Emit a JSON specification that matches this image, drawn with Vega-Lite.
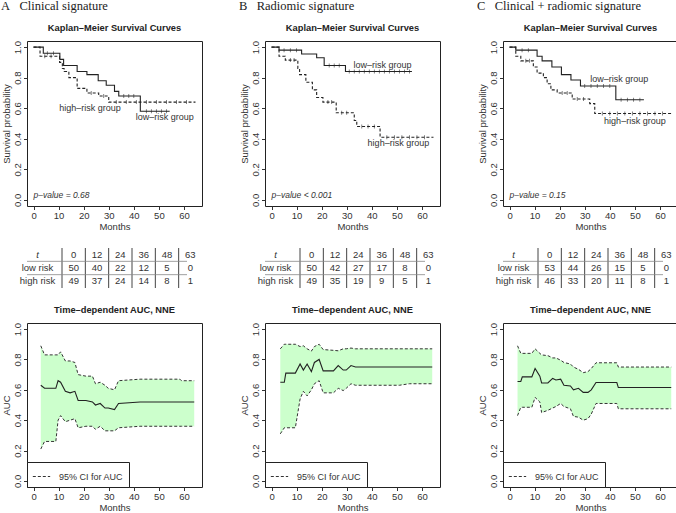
{
"$schema": "https://vega.github.io/schema/vega-lite/v6.json",
"padding": {"left": 0, "top": 0, "right": 0, "bottom": 0},
"datasets": {
"km": [
{"panel":"A","group":"low","t":0,"s":1},{"panel":"A","group":"low","t":3.9,"s":0.96},{"panel":"A","group":"low","t":10.5,"s":0.92},{"panel":"A","group":"low","t":12,"s":0.88},{"panel":"A","group":"low","t":17.4,"s":0.84},{"panel":"A","group":"low","t":21.3,"s":0.82},{"panel":"A","group":"low","t":25.8,"s":0.78},{"panel":"A","group":"low","t":29,"s":0.75},{"panel":"A","group":"low","t":32.3,"s":0.71},{"panel":"A","group":"low","t":34,"s":0.68},{"panel":"A","group":"low","t":42.6,"s":0.58},{"panel":"A","group":"low","t":54.3,"s":0.58},
{"panel":"A","group":"high","t":0,"s":1},{"panel":"A","group":"high","t":2.6,"s":0.94},{"panel":"A","group":"high","t":10.4,"s":0.9},{"panel":"A","group":"high","t":11.5,"s":0.86},{"panel":"A","group":"high","t":12.2,"s":0.84},{"panel":"A","group":"high","t":14.1,"s":0.8},{"panel":"A","group":"high","t":17.4,"s":0.73},{"panel":"A","group":"high","t":21.3,"s":0.7},{"panel":"A","group":"high","t":26,"s":0.68},{"panel":"A","group":"high","t":30,"s":0.64},{"panel":"A","group":"high","t":64.6,"s":0.64},
{"panel":"B","group":"low","t":0,"s":1},{"panel":"B","group":"low","t":3,"s":0.98},{"panel":"B","group":"low","t":12,"s":0.955},{"panel":"B","group":"low","t":18,"s":0.93},{"panel":"B","group":"low","t":21,"s":0.88},{"panel":"B","group":"low","t":29.5,"s":0.84},{"panel":"B","group":"low","t":56,"s":0.84},
{"panel":"B","group":"high","t":0,"s":1},{"panel":"B","group":"high","t":3,"s":0.94},{"panel":"B","group":"high","t":5.5,"s":0.915},{"panel":"B","group":"high","t":10.5,"s":0.86},{"panel":"B","group":"high","t":11.2,"s":0.82},{"panel":"B","group":"high","t":13.7,"s":0.77},{"panel":"B","group":"high","t":16.3,"s":0.72},{"panel":"B","group":"high","t":18,"s":0.67},{"panel":"B","group":"high","t":20.5,"s":0.64},{"panel":"B","group":"high","t":25.8,"s":0.57},{"panel":"B","group":"high","t":33,"s":0.52},{"panel":"B","group":"high","t":34,"s":0.48},{"panel":"B","group":"high","t":43.3,"s":0.41},{"panel":"B","group":"high","t":64.6,"s":0.41},
{"panel":"C","group":"low","t":0,"s":1},{"panel":"C","group":"low","t":2.5,"s":0.98},{"panel":"C","group":"low","t":11,"s":0.94},{"panel":"C","group":"low","t":13,"s":0.91},{"panel":"C","group":"low","t":16.9,"s":0.87},{"panel":"C","group":"low","t":20.7,"s":0.82},{"panel":"C","group":"low","t":24.5,"s":0.785},{"panel":"C","group":"low","t":28.3,"s":0.745},{"panel":"C","group":"low","t":42.4,"s":0.655},{"panel":"C","group":"low","t":53.6,"s":0.655},
{"panel":"C","group":"high","t":0,"s":1},{"panel":"C","group":"high","t":2.5,"s":0.94},{"panel":"C","group":"high","t":4.5,"s":0.91},{"panel":"C","group":"high","t":9.5,"s":0.87},{"panel":"C","group":"high","t":11,"s":0.83},{"panel":"C","group":"high","t":13.5,"s":0.8},{"panel":"C","group":"high","t":15,"s":0.76},{"panel":"C","group":"high","t":16.5,"s":0.72},{"panel":"C","group":"high","t":19,"s":0.7},{"panel":"C","group":"high","t":25,"s":0.66},{"panel":"C","group":"high","t":32,"s":0.63},{"panel":"C","group":"high","t":34,"s":0.565},{"panel":"C","group":"high","t":64.6,"s":0.565}
],
"cens": [
{"panel":"A","t":5.5,"s":0.96},{"panel":"A","t":8,"s":0.96},{"panel":"A","t":36,"s":0.68},{"panel":"A","t":38,"s":0.68},{"panel":"A","t":40,"s":0.68},{"panel":"A","t":45,"s":0.58},{"panel":"A","t":47,"s":0.58},{"panel":"A","t":49,"s":0.58},{"panel":"A","t":51,"s":0.58},{"panel":"A","t":53,"s":0.58},
{"panel":"A","t":4.5,"s":0.94},{"panel":"A","t":7,"s":0.94},{"panel":"A","t":23,"s":0.7},{"panel":"A","t":28,"s":0.68},{"panel":"A","t":33,"s":0.64},{"panel":"A","t":37,"s":0.64},{"panel":"A","t":41,"s":0.64},{"panel":"A","t":45,"s":0.64},{"panel":"A","t":49,"s":0.64},{"panel":"A","t":53,"s":0.64},{"panel":"A","t":57,"s":0.64},{"panel":"A","t":61,"s":0.64},
{"panel":"B","t":5,"s":0.98},{"panel":"B","t":7.5,"s":0.98},{"panel":"B","t":10,"s":0.98},{"panel":"B","t":23,"s":0.88},{"panel":"B","t":25,"s":0.88},{"panel":"B","t":27,"s":0.88},{"panel":"B","t":31,"s":0.84},{"panel":"B","t":33,"s":0.84},{"panel":"B","t":35,"s":0.84},{"panel":"B","t":37,"s":0.84},{"panel":"B","t":39,"s":0.84},{"panel":"B","t":41,"s":0.84},{"panel":"B","t":43,"s":0.84},{"panel":"B","t":45,"s":0.84},{"panel":"B","t":47,"s":0.84},{"panel":"B","t":49,"s":0.84},{"panel":"B","t":51,"s":0.84},{"panel":"B","t":53,"s":0.84},{"panel":"B","t":55,"s":0.84},
{"panel":"B","t":7.5,"s":0.915},{"panel":"B","t":9,"s":0.915},{"panel":"B","t":22.5,"s":0.64},{"panel":"B","t":24,"s":0.64},{"panel":"B","t":28,"s":0.57},{"panel":"B","t":30,"s":0.57},{"panel":"B","t":36,"s":0.48},{"panel":"B","t":38.5,"s":0.48},{"panel":"B","t":41,"s":0.48},{"panel":"B","t":46,"s":0.41},{"panel":"B","t":49,"s":0.41},{"panel":"B","t":52,"s":0.41},{"panel":"B","t":55,"s":0.41},{"panel":"B","t":58,"s":0.41},{"panel":"B","t":61,"s":0.41},
{"panel":"C","t":5,"s":0.98},{"panel":"C","t":7.5,"s":0.98},{"panel":"C","t":30,"s":0.745},{"panel":"C","t":32.5,"s":0.745},{"panel":"C","t":35,"s":0.745},{"panel":"C","t":37.5,"s":0.745},{"panel":"C","t":40,"s":0.745},{"panel":"C","t":44.5,"s":0.655},{"panel":"C","t":47,"s":0.655},{"panel":"C","t":49.5,"s":0.655},{"panel":"C","t":52,"s":0.655},
{"panel":"C","t":6.5,"s":0.91},{"panel":"C","t":8,"s":0.91},{"panel":"C","t":21,"s":0.7},{"panel":"C","t":23,"s":0.7},{"panel":"C","t":27,"s":0.66},{"panel":"C","t":29.5,"s":0.66},{"panel":"C","t":37,"s":0.565},{"panel":"C","t":40,"s":0.565},{"panel":"C","t":43,"s":0.565},{"panel":"C","t":46,"s":0.565},{"panel":"C","t":49,"s":0.565},{"panel":"C","t":52,"s":0.565},{"panel":"C","t":55,"s":0.565},{"panel":"C","t":58,"s":0.565},{"panel":"C","t":61,"s":0.565}
],
"auc": [
{"panel":"A","t":2.9,"lo":0.21,"auc":0.63,"hi":0.89},{"panel":"A","t":4.4,"lo":0.26,"auc":0.61,"hi":0.83},{"panel":"A","t":8.9,"lo":0.26,"auc":0.61,"hi":0.83},{"panel":"A","t":9.8,"lo":0.4,"auc":0.66,"hi":0.83},{"panel":"A","t":10.8,"lo":0.43,"auc":0.65,"hi":0.85},{"panel":"A","t":12.7,"lo":0.39,"auc":0.59,"hi":0.79},{"panel":"A","t":14.6,"lo":0.4,"auc":0.58,"hi":0.79},{"panel":"A","t":16.5,"lo":0.41,"auc":0.59,"hi":0.78},{"panel":"A","t":17.8,"lo":0.35,"auc":0.53,"hi":0.7},{"panel":"A","t":20.9,"lo":0.36,"auc":0.53,"hi":0.69},{"panel":"A","t":23.5,"lo":0.36,"auc":0.52,"hi":0.69},{"panel":"A","t":24.7,"lo":0.34,"auc":0.5,"hi":0.64},{"panel":"A","t":26.6,"lo":0.36,"auc":0.51,"hi":0.65},{"panel":"A","t":28.5,"lo":0.33,"auc":0.48,"hi":0.63},{"panel":"A","t":29.8,"lo":0.33,"auc":0.48,"hi":0.61},{"panel":"A","t":32.3,"lo":0.33,"auc":0.47,"hi":0.6},{"panel":"A","t":33.9,"lo":0.35,"auc":0.51,"hi":0.66},{"panel":"A","t":42.5,"lo":0.36,"auc":0.52,"hi":0.67},{"panel":"A","t":58.4,"lo":0.36,"auc":0.52,"hi":0.67},{"panel":"A","t":59,"lo":0.36,"auc":0.52,"hi":0.66},{"panel":"A","t":64.1,"lo":0.36,"auc":0.52,"hi":0.66},
{"panel":"B","t":3.5,"lo":0.31,"auc":0.65,"hi":0.87},{"panel":"B","t":5.1,"lo":0.35,"auc":0.65,"hi":0.9},{"panel":"B","t":5.7,"lo":0.35,"auc":0.71,"hi":0.9},{"panel":"B","t":9.5,"lo":0.35,"auc":0.71,"hi":0.9},{"panel":"B","t":11.4,"lo":0.54,"auc":0.77,"hi":0.885},{"panel":"B","t":12.7,"lo":0.59,"auc":0.73,"hi":0.89},{"panel":"B","t":14.2,"lo":0.56,"auc":0.77,"hi":0.87},{"panel":"B","t":15.9,"lo":0.6,"auc":0.72,"hi":0.855},{"panel":"B","t":17.1,"lo":0.64,"auc":0.78,"hi":0.885},{"panel":"B","t":19,"lo":0.66,"auc":0.8,"hi":0.9},{"panel":"B","t":20.6,"lo":0.58,"auc":0.725,"hi":0.865},{"panel":"B","t":24.7,"lo":0.58,"auc":0.725,"hi":0.86},{"panel":"B","t":26.6,"lo":0.61,"auc":0.76,"hi":0.857},{"panel":"B","t":28.6,"lo":0.595,"auc":0.73,"hi":0.87},{"panel":"B","t":29.8,"lo":0.61,"auc":0.73,"hi":0.87},{"panel":"B","t":31.7,"lo":0.64,"auc":0.76,"hi":0.875},{"panel":"B","t":33.5,"lo":0.63,"auc":0.75,"hi":0.87},{"panel":"B","t":51,"lo":0.63,"auc":0.75,"hi":0.87},{"panel":"B","t":55,"lo":0.64,"auc":0.75,"hi":0.87},{"panel":"B","t":64.1,"lo":0.64,"auc":0.75,"hi":0.87},
{"panel":"C","t":3.2,"lo":0.43,"auc":0.655,"hi":0.89},{"panel":"C","t":4.5,"lo":0.485,"auc":0.655,"hi":0.84},{"panel":"C","t":5.1,"lo":0.485,"auc":0.685,"hi":0.84},{"panel":"C","t":8.9,"lo":0.485,"auc":0.685,"hi":0.84},{"panel":"C","t":10.2,"lo":0.55,"auc":0.74,"hi":0.87},{"panel":"C","t":12.1,"lo":0.52,"auc":0.69,"hi":0.84},{"panel":"C","t":12.8,"lo":0.45,"auc":0.645,"hi":0.83},{"panel":"C","t":15.3,"lo":0.465,"auc":0.645,"hi":0.825},{"panel":"C","t":17.2,"lo":0.48,"auc":0.675,"hi":0.81},{"panel":"C","t":18.5,"lo":0.49,"auc":0.665,"hi":0.81},{"panel":"C","t":20.4,"lo":0.51,"auc":0.67,"hi":0.795},{"panel":"C","t":21.7,"lo":0.49,"auc":0.63,"hi":0.78},{"panel":"C","t":24.3,"lo":0.475,"auc":0.625,"hi":0.77},{"panel":"C","t":25.5,"lo":0.425,"auc":0.6,"hi":0.75},{"panel":"C","t":27.5,"lo":0.42,"auc":0.61,"hi":0.735},{"panel":"C","t":29.4,"lo":0.4,"auc":0.583,"hi":0.713},{"panel":"C","t":31.3,"lo":0.41,"auc":0.583,"hi":0.72},{"panel":"C","t":32.6,"lo":0.44,"auc":0.6,"hi":0.74},{"panel":"C","t":34.5,"lo":0.51,"auc":0.648,"hi":0.778},{"panel":"C","t":42.8,"lo":0.51,"auc":0.648,"hi":0.778},{"panel":"C","t":43.4,"lo":0.475,"auc":0.615,"hi":0.75},{"panel":"C","t":64.5,"lo":0.475,"auc":0.615,"hi":0.75}
],
"risk": [
{"panel":"A","row":"t","col":"0","n":"0"},{"panel":"A","row":"t","col":"12","n":"12"},{"panel":"A","row":"t","col":"24","n":"24"},{"panel":"A","row":"t","col":"36","n":"36"},{"panel":"A","row":"t","col":"48","n":"48"},{"panel":"A","row":"t","col":"63","n":"63"},
{"panel":"A","row":"low risk","col":"0","n":"50"},{"panel":"A","row":"low risk","col":"12","n":"40"},{"panel":"A","row":"low risk","col":"24","n":"22"},{"panel":"A","row":"low risk","col":"36","n":"12"},{"panel":"A","row":"low risk","col":"48","n":"5"},{"panel":"A","row":"low risk","col":"63","n":"0"},
{"panel":"A","row":"high risk","col":"0","n":"49"},{"panel":"A","row":"high risk","col":"12","n":"37"},{"panel":"A","row":"high risk","col":"24","n":"24"},{"panel":"A","row":"high risk","col":"36","n":"14"},{"panel":"A","row":"high risk","col":"48","n":"8"},{"panel":"A","row":"high risk","col":"63","n":"1"},
{"panel":"B","row":"t","col":"0","n":"0"},{"panel":"B","row":"t","col":"12","n":"12"},{"panel":"B","row":"t","col":"24","n":"24"},{"panel":"B","row":"t","col":"36","n":"36"},{"panel":"B","row":"t","col":"48","n":"48"},{"panel":"B","row":"t","col":"63","n":"63"},
{"panel":"B","row":"low risk","col":"0","n":"50"},{"panel":"B","row":"low risk","col":"12","n":"42"},{"panel":"B","row":"low risk","col":"24","n":"27"},{"panel":"B","row":"low risk","col":"36","n":"17"},{"panel":"B","row":"low risk","col":"48","n":"8"},{"panel":"B","row":"low risk","col":"63","n":"0"},
{"panel":"B","row":"high risk","col":"0","n":"49"},{"panel":"B","row":"high risk","col":"12","n":"35"},{"panel":"B","row":"high risk","col":"24","n":"19"},{"panel":"B","row":"high risk","col":"36","n":"9"},{"panel":"B","row":"high risk","col":"48","n":"5"},{"panel":"B","row":"high risk","col":"63","n":"1"},
{"panel":"C","row":"t","col":"0","n":"0"},{"panel":"C","row":"t","col":"12","n":"12"},{"panel":"C","row":"t","col":"24","n":"24"},{"panel":"C","row":"t","col":"36","n":"36"},{"panel":"C","row":"t","col":"48","n":"48"},{"panel":"C","row":"t","col":"63","n":"63"},
{"panel":"C","row":"low risk","col":"0","n":"53"},{"panel":"C","row":"low risk","col":"12","n":"44"},{"panel":"C","row":"low risk","col":"24","n":"26"},{"panel":"C","row":"low risk","col":"36","n":"15"},{"panel":"C","row":"low risk","col":"48","n":"5"},{"panel":"C","row":"low risk","col":"63","n":"0"},
{"panel":"C","row":"high risk","col":"0","n":"46"},{"panel":"C","row":"high risk","col":"12","n":"33"},{"panel":"C","row":"high risk","col":"24","n":"20"},{"panel":"C","row":"high risk","col":"36","n":"11"},{"panel":"C","row":"high risk","col":"48","n":"8"},{"panel":"C","row":"high risk","col":"63","n":"1"}
]
},
"hconcat": [
{
"title": {"text": "A\u00a0\u00a0 Clinical signature", "font": "Liberation Serif", "fontSize": 12.5, "fontWeight": "normal", "color": "#222", "anchor": "start", "offset": 11},
"spacing": 16,
"resolve": {"scale": {"strokeDash": "independent"}, "legend": {"strokeDash": "independent"}},
"vconcat": [
{"width": 175, "height": 165, "title": "Kaplan–Meier Survival Curves",
"layer": [
{"data": {"name": "km"}, "transform": [{"filter": "datum.panel==='A' && datum.group==='low'"}],
"mark": {"type": "line", "interpolate": "step-after", "color": "#222", "strokeWidth": 1.1},
"encoding": {"x": {"field": "t", "type": "quantitative", "scale": {"domain": [-2.6, 67.2], "nice": false, "zero": false}, "axis": {"title": "Months", "values": [0,10,20,30,40,50,60], "tickCount": 20, "labelFlush": false, "labelOverlap": false}},
"y": {"field": "s", "type": "quantitative", "scale": {"domain": [-0.04, 1.04], "nice": false, "zero": false}, "axis": {"title": "Survival probability", "values": [0,0.2,0.4,0.6,0.8,1], "tickCount": 20, "format": ".1f", "labelOverlap": false}}}},
{"data": {"name": "km"}, "transform": [{"filter": "datum.panel==='A' && datum.group==='high'"}],
"mark": {"type": "line", "interpolate": "step-after", "color": "#222", "strokeWidth": 1.1, "strokeDash": [3,2]},
"encoding": {"x": {"field": "t", "type": "quantitative"}, "y": {"field": "s", "type": "quantitative"}}},
{"data": {"name": "cens"}, "transform": [{"filter": "datum.panel==='A'"}],
"mark": {"type": "tick", "orient": "vertical", "size": 4, "thickness": 0.8, "color": "#222"},
"encoding": {"x": {"field": "t", "type": "quantitative"}, "y": {"field": "s", "type": "quantitative"}}},
{"data": {"values": [{}]}, "mark": {"type": "text", "text": "high–risk group", "fontSize": 9, "color": "#333"}, "encoding": {"x": {"datum": 22.5}, "y": {"datum": 0.6}}},
{"data": {"values": [{}]}, "mark": {"type": "text", "text": "low–risk group", "fontSize": 9, "color": "#333"}, "encoding": {"x": {"datum": 52.3}, "y": {"datum": 0.54}}},
{"data": {"values": [{}]}, "mark": {"type": "text", "text": "p–value = 0.68", "fontSize": 8.5, "fontStyle": "italic", "align": "left", "color": "#333"}, "encoding": {"x": {"datum": 0}, "y": {"datum": 0.03}}}
]},
{"width": 175, "height": 40, "view": {"stroke": null},
"data": {"name": "risk"}, "transform": [{"filter": "datum.panel==='A'"}],
"layer": [
{"mark": {"type": "text", "fontSize": 9.5, "color": "#333"},
"encoding": {"x": {"field": "col", "type": "ordinal", "scale": {"type": "band", "domain": ["0","12","24","36","48","63"], "range": [35, 175], "paddingInner": 0, "paddingOuter": 0}, "axis": null},
"y": {"field": "row", "type": "nominal", "scale": {"type": "band", "domain": ["t","low risk","high risk"], "paddingInner": 0, "paddingOuter": 0}, "axis": {"title": null, "domain": false, "ticks": false, "tickSize": 0, "labelAngle": 0, "labelAlign": "center", "labelBaseline": "middle", "labelPadding": -10, "labelFontSize": 9.5, "labelFontStyle": {"condition": {"test": "datum.value==='t'", "value": "italic"}, "value": "normal"}}},
"text": {"field": "n"},
"fontWeight": {"condition": {"test": "datum.row==='t'", "value": "bold"}, "value": "normal"}}},
{"transform": [{"filter": "datum.row==='t'"}], "mark": {"type": "rule", "color": "#444", "strokeWidth": 1}, "encoding": {"x": {"field": "col", "type": "ordinal", "bandPosition": 0}}},
{"transform": [{"filter": "datum.row!=='t' && datum.col==='0'"}], "mark": {"type": "rule", "color": "#888", "strokeWidth": 0.8, "xOffset": -15, "x2Offset": 2}, "encoding": {"y": {"field": "row", "type": "nominal", "bandPosition": 0}}}
]},
{"width": 175, "height": 164, "title": {"text": "Time–dependent AUC, NNE", "offset": 7},
"data": {"name": "auc"}, "transform": [{"filter": "datum.panel==='A'"}],
"layer": [
{"mark": {"type": "area", "color": "#ccffcc", "opacity": 1},
"encoding": {"x": {"field": "t", "type": "quantitative", "scale": {"domain": [-2.6, 67.2], "nice": false, "zero": false}, "axis": {"title": "Months", "values": [0,10,20,30,40,50,60], "tickCount": 20, "labelFlush": false, "labelOverlap": false}},
"y": {"field": "lo", "type": "quantitative", "scale": {"domain": [-0.04, 1.04], "nice": false, "zero": false}, "axis": {"title": "AUC", "values": [0,0.2,0.4,0.6,0.8,1], "tickCount": 20, "format": ".1f", "labelOverlap": false}},
"y2": {"field": "hi"}}},
{"mark": {"type": "line", "color": "#333", "strokeWidth": 1}, "encoding": {"x": {"field": "t", "type": "quantitative"}, "y": {"field": "hi", "type": "quantitative"}, "strokeDash": {"datum": "95% CI for AUC", "scale": {"range": [[3,2]]}, "legend": {"title": null}}}},
{"mark": {"type": "line", "color": "#333", "strokeWidth": 1}, "encoding": {"x": {"field": "t", "type": "quantitative"}, "y": {"field": "lo", "type": "quantitative"}, "strokeDash": {"datum": "95% CI for AUC"}}},
{"mark": {"type": "line", "color": "#222", "strokeWidth": 1.1}, "encoding": {"x": {"field": "t", "type": "quantitative"}, "y": {"field": "auc", "type": "quantitative"}}}
]}
]
},
{
"title": {"text": "B\u00a0\u00a0 Radiomic signature", "font": "Liberation Serif", "fontSize": 12.5, "fontWeight": "normal", "color": "#222", "anchor": "start", "offset": 11},
"spacing": 16,
"resolve": {"scale": {"strokeDash": "independent"}, "legend": {"strokeDash": "independent"}},
"vconcat": [
{"width": 175, "height": 165, "title": "Kaplan–Meier Survival Curves",
"layer": [
{"data": {"name": "km"}, "transform": [{"filter": "datum.panel==='B' && datum.group==='low'"}],
"mark": {"type": "line", "interpolate": "step-after", "color": "#222", "strokeWidth": 1.1},
"encoding": {"x": {"field": "t", "type": "quantitative", "scale": {"domain": [-2.6, 67.2], "nice": false, "zero": false}, "axis": {"title": "Months", "values": [0,10,20,30,40,50,60], "tickCount": 20, "labelFlush": false, "labelOverlap": false}},
"y": {"field": "s", "type": "quantitative", "scale": {"domain": [-0.04, 1.04], "nice": false, "zero": false}, "axis": {"title": "Survival probability", "values": [0,0.2,0.4,0.6,0.8,1], "tickCount": 20, "format": ".1f", "labelOverlap": false}}}},
{"data": {"name": "km"}, "transform": [{"filter": "datum.panel==='B' && datum.group==='high'"}],
"mark": {"type": "line", "interpolate": "step-after", "color": "#222", "strokeWidth": 1.1, "strokeDash": [3,2]},
"encoding": {"x": {"field": "t", "type": "quantitative"}, "y": {"field": "s", "type": "quantitative"}}},
{"data": {"name": "cens"}, "transform": [{"filter": "datum.panel==='B'"}],
"mark": {"type": "tick", "orient": "vertical", "size": 4, "thickness": 0.8, "color": "#222"},
"encoding": {"x": {"field": "t", "type": "quantitative"}, "y": {"field": "s", "type": "quantitative"}}},
{"data": {"values": [{}]}, "mark": {"type": "text", "text": "low–risk group", "fontSize": 9, "color": "#333"}, "encoding": {"x": {"datum": 44.3}, "y": {"datum": 0.88}}},
{"data": {"values": [{}]}, "mark": {"type": "text", "text": "high–risk group", "fontSize": 9, "color": "#333"}, "encoding": {"x": {"datum": 50.6}, "y": {"datum": 0.37}}},
{"data": {"values": [{}]}, "mark": {"type": "text", "text": "p–value < 0.001", "fontSize": 8.5, "fontStyle": "italic", "align": "left", "color": "#333"}, "encoding": {"x": {"datum": 0}, "y": {"datum": 0.03}}}
]},
{"width": 175, "height": 40, "view": {"stroke": null},
"data": {"name": "risk"}, "transform": [{"filter": "datum.panel==='B'"}],
"layer": [
{"mark": {"type": "text", "fontSize": 9.5, "color": "#333"},
"encoding": {"x": {"field": "col", "type": "ordinal", "scale": {"type": "band", "domain": ["0","12","24","36","48","63"], "range": [35, 175], "paddingInner": 0, "paddingOuter": 0}, "axis": null},
"y": {"field": "row", "type": "nominal", "scale": {"type": "band", "domain": ["t","low risk","high risk"], "paddingInner": 0, "paddingOuter": 0}, "axis": {"title": null, "domain": false, "ticks": false, "tickSize": 0, "labelAngle": 0, "labelAlign": "center", "labelBaseline": "middle", "labelPadding": -10, "labelFontSize": 9.5, "labelFontStyle": {"condition": {"test": "datum.value==='t'", "value": "italic"}, "value": "normal"}}},
"text": {"field": "n"},
"fontWeight": {"condition": {"test": "datum.row==='t'", "value": "bold"}, "value": "normal"}}},
{"transform": [{"filter": "datum.row==='t'"}], "mark": {"type": "rule", "color": "#444", "strokeWidth": 1}, "encoding": {"x": {"field": "col", "type": "ordinal", "bandPosition": 0}}},
{"transform": [{"filter": "datum.row!=='t' && datum.col==='0'"}], "mark": {"type": "rule", "color": "#888", "strokeWidth": 0.8, "xOffset": -15, "x2Offset": 2}, "encoding": {"y": {"field": "row", "type": "nominal", "bandPosition": 0}}}
]},
{"width": 175, "height": 164, "title": {"text": "Time–dependent AUC, NNE", "offset": 7},
"data": {"name": "auc"}, "transform": [{"filter": "datum.panel==='B'"}],
"layer": [
{"mark": {"type": "area", "color": "#ccffcc", "opacity": 1},
"encoding": {"x": {"field": "t", "type": "quantitative", "scale": {"domain": [-2.6, 67.2], "nice": false, "zero": false}, "axis": {"title": "Months", "values": [0,10,20,30,40,50,60], "tickCount": 20, "labelFlush": false, "labelOverlap": false}},
"y": {"field": "lo", "type": "quantitative", "scale": {"domain": [-0.04, 1.04], "nice": false, "zero": false}, "axis": {"title": "AUC", "values": [0,0.2,0.4,0.6,0.8,1], "tickCount": 20, "format": ".1f", "labelOverlap": false}},
"y2": {"field": "hi"}}},
{"mark": {"type": "line", "color": "#333", "strokeWidth": 1}, "encoding": {"x": {"field": "t", "type": "quantitative"}, "y": {"field": "hi", "type": "quantitative"}, "strokeDash": {"datum": "95% CI for AUC", "scale": {"range": [[3,2]]}, "legend": {"title": null}}}},
{"mark": {"type": "line", "color": "#333", "strokeWidth": 1}, "encoding": {"x": {"field": "t", "type": "quantitative"}, "y": {"field": "lo", "type": "quantitative"}, "strokeDash": {"datum": "95% CI for AUC"}}},
{"mark": {"type": "line", "color": "#222", "strokeWidth": 1.1}, "encoding": {"x": {"field": "t", "type": "quantitative"}, "y": {"field": "auc", "type": "quantitative"}}}
]}
]
},
{
"title": {"text": "C\u00a0\u00a0 Clinical + radiomic signature", "font": "Liberation Serif", "fontSize": 12.5, "fontWeight": "normal", "color": "#222", "anchor": "start", "offset": 11},
"spacing": 16,
"resolve": {"scale": {"strokeDash": "independent"}, "legend": {"strokeDash": "independent"}},
"vconcat": [
{"width": 175, "height": 165, "title": "Kaplan–Meier Survival Curves",
"layer": [
{"data": {"name": "km"}, "transform": [{"filter": "datum.panel==='C' && datum.group==='low'"}],
"mark": {"type": "line", "interpolate": "step-after", "color": "#222", "strokeWidth": 1.1},
"encoding": {"x": {"field": "t", "type": "quantitative", "scale": {"domain": [-2.6, 67.2], "nice": false, "zero": false}, "axis": {"title": "Months", "values": [0,10,20,30,40,50,60], "tickCount": 20, "labelFlush": false, "labelOverlap": false}},
"y": {"field": "s", "type": "quantitative", "scale": {"domain": [-0.04, 1.04], "nice": false, "zero": false}, "axis": {"title": "Survival probability", "values": [0,0.2,0.4,0.6,0.8,1], "tickCount": 20, "format": ".1f", "labelOverlap": false}}}},
{"data": {"name": "km"}, "transform": [{"filter": "datum.panel==='C' && datum.group==='high'"}],
"mark": {"type": "line", "interpolate": "step-after", "color": "#222", "strokeWidth": 1.1, "strokeDash": [3,2]},
"encoding": {"x": {"field": "t", "type": "quantitative"}, "y": {"field": "s", "type": "quantitative"}}},
{"data": {"name": "cens"}, "transform": [{"filter": "datum.panel==='C'"}],
"mark": {"type": "tick", "orient": "vertical", "size": 4, "thickness": 0.8, "color": "#222"},
"encoding": {"x": {"field": "t", "type": "quantitative"}, "y": {"field": "s", "type": "quantitative"}}},
{"data": {"values": [{}]}, "mark": {"type": "text", "text": "low–risk group", "fontSize": 9, "color": "#333"}, "encoding": {"x": {"datum": 43.8}, "y": {"datum": 0.79}}},
{"data": {"values": [{}]}, "mark": {"type": "text", "text": "high–risk group", "fontSize": 9, "color": "#333"}, "encoding": {"x": {"datum": 50}, "y": {"datum": 0.515}}},
{"data": {"values": [{}]}, "mark": {"type": "text", "text": "p–value = 0.15", "fontSize": 8.5, "fontStyle": "italic", "align": "left", "color": "#333"}, "encoding": {"x": {"datum": 0}, "y": {"datum": 0.03}}}
]},
{"width": 175, "height": 40, "view": {"stroke": null},
"data": {"name": "risk"}, "transform": [{"filter": "datum.panel==='C'"}],
"layer": [
{"mark": {"type": "text", "fontSize": 9.5, "color": "#333"},
"encoding": {"x": {"field": "col", "type": "ordinal", "scale": {"type": "band", "domain": ["0","12","24","36","48","63"], "range": [35, 175], "paddingInner": 0, "paddingOuter": 0}, "axis": null},
"y": {"field": "row", "type": "nominal", "scale": {"type": "band", "domain": ["t","low risk","high risk"], "paddingInner": 0, "paddingOuter": 0}, "axis": {"title": null, "domain": false, "ticks": false, "tickSize": 0, "labelAngle": 0, "labelAlign": "center", "labelBaseline": "middle", "labelPadding": -10, "labelFontSize": 9.5, "labelFontStyle": {"condition": {"test": "datum.value==='t'", "value": "italic"}, "value": "normal"}}},
"text": {"field": "n"},
"fontWeight": {"condition": {"test": "datum.row==='t'", "value": "bold"}, "value": "normal"}}},
{"transform": [{"filter": "datum.row==='t'"}], "mark": {"type": "rule", "color": "#444", "strokeWidth": 1}, "encoding": {"x": {"field": "col", "type": "ordinal", "bandPosition": 0}}},
{"transform": [{"filter": "datum.row!=='t' && datum.col==='0'"}], "mark": {"type": "rule", "color": "#888", "strokeWidth": 0.8, "xOffset": -15, "x2Offset": 2}, "encoding": {"y": {"field": "row", "type": "nominal", "bandPosition": 0}}}
]},
{"width": 175, "height": 164, "title": {"text": "Time–dependent AUC, NNE", "offset": 7},
"data": {"name": "auc"}, "transform": [{"filter": "datum.panel==='C'"}],
"layer": [
{"mark": {"type": "area", "color": "#ccffcc", "opacity": 1},
"encoding": {"x": {"field": "t", "type": "quantitative", "scale": {"domain": [-2.6, 67.2], "nice": false, "zero": false}, "axis": {"title": "Months", "values": [0,10,20,30,40,50,60], "tickCount": 20, "labelFlush": false, "labelOverlap": false}},
"y": {"field": "lo", "type": "quantitative", "scale": {"domain": [-0.04, 1.04], "nice": false, "zero": false}, "axis": {"title": "AUC", "values": [0,0.2,0.4,0.6,0.8,1], "tickCount": 20, "format": ".1f", "labelOverlap": false}},
"y2": {"field": "hi"}}},
{"mark": {"type": "line", "color": "#333", "strokeWidth": 1}, "encoding": {"x": {"field": "t", "type": "quantitative"}, "y": {"field": "hi", "type": "quantitative"}, "strokeDash": {"datum": "95% CI for AUC", "scale": {"range": [[3,2]]}, "legend": {"title": null}}}},
{"mark": {"type": "line", "color": "#333", "strokeWidth": 1}, "encoding": {"x": {"field": "t", "type": "quantitative"}, "y": {"field": "lo", "type": "quantitative"}, "strokeDash": {"datum": "95% CI for AUC"}}},
{"mark": {"type": "line", "color": "#222", "strokeWidth": 1.1}, "encoding": {"x": {"field": "t", "type": "quantitative"}, "y": {"field": "auc", "type": "quantitative"}}}
]}
]
}
],
"spacing": 35,
"resolve": {"scale": {"strokeDash": "independent"}, "legend": {"strokeDash": "independent"}},
"config": {
"font": "Liberation Sans",
"view": {"stroke": "#222", "strokeWidth": 1},
"axis": {"labelFont": "Liberation Sans", "labelFontSize": 9.5, "labelColor": "#333", "titleFont": "Liberation Sans", "titleFontSize": 9.5, "titleFontWeight": "normal", "titleColor": "#333", "tickColor": "#333", "tickSize": 3.5, "domain": false, "grid": false, "labelPadding": 1, "titlePadding": 1, "labelOverlap": false},
"axisY": {"labelAngle": 270, "labelAlign": "center", "labelBaseline": "bottom"},
"title": {"font": "Liberation Sans", "fontSize": 9.3, "fontWeight": "bold", "color": "#222", "offset": 7},
"legend": {"orient": "bottom-left", "offset": 0, "strokeColor": "#222", "fillColor": "white", "padding": 5, "labelFontSize": 9, "labelColor": "#333", "labelFont": "Liberation Sans", "symbolType": "stroke", "symbolStrokeWidth": 1, "symbolStrokeColor": "#333", "symbolSize": 300, "symbolDash": [3,2], "labelOffset": 8, "cornerRadius": 0}
}
}
